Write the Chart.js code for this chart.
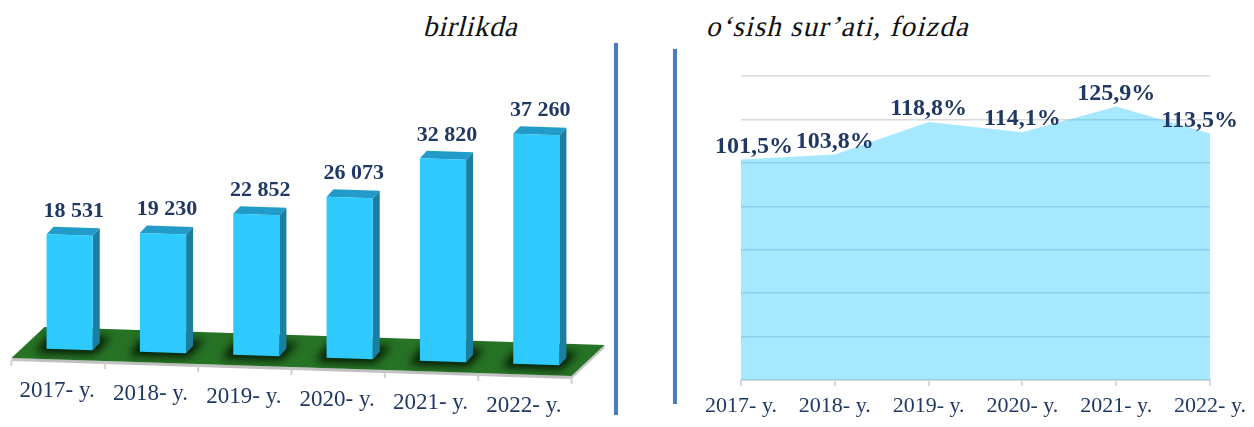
<!DOCTYPE html>
<html>
<head>
<meta charset="utf-8">
<script src="https://cdn.jsdelivr.net/npm/chart.js@4.4.0/dist/chart.umd.min.js"></script>
<style>
  body { margin: 0; background: #fff; }
  #wrap { position: relative; width: 1254px; height: 427px; overflow: hidden; background: #fff; }
  canvas { position: absolute; top: 0; }
  #left { left: 0; }
  #right { left: 680px; }
  .title {
    position: absolute; font-family: "Liberation Serif", "Times New Roman", serif; font-style: normal;
    font-size: 29px; line-height: 1; color: #111; white-space: nowrap;
    transform: skewX(-14deg); transform-origin: 0 80%;
  }
  .divider { position: absolute; width: 4px; background: #4a7cbe; box-shadow: 0 0 1px #9db8dc; }
</style>
</head>
<body>
<div id="wrap">
  <div class="title" style="left:423px; top:12px; letter-spacing:0.5px">birlikda</div>
  <div class="title" style="left:706px; top:12px; letter-spacing:1.1px">o‘sish sur’ati, foizda</div>
  <div class="divider" style="left:614px; top:43px; height:372px"></div>
  <div class="divider" style="left:673px; top:49px; height:355px"></div>
  <canvas id="left" width="612" height="427"></canvas>
  <canvas id="right" width="574" height="427"></canvas>
</div>
<script>
const years = ["2017- y.", "2018- y.", "2019- y.", "2020- y.", "2021- y.", "2022- y."];
const units = [18531, 19230, 22852, 26073, 32820, 37260];
const growth = [101.5, 103.8, 118.8, 114.1, 125.9, 113.5];
const growthTicks = { min: 0, max: 140, step: 20 };

const navy = "#1f3864";
const serif = '"Liberation Serif", "Times New Roman", serif';

const fmtUnits = v => String(v).replace(/\B(?=(\d{3})+(?!\d))/g, " ");
const fmtPct = v => v.toFixed(1).replace(".", ",") + "%";

// 3D look for the left chart
const SLOPE = 0.0323;
const DEPTH = { x: 7, y: -7.5 };
const FRONT = { x: -11.5, y: 10 };
const BACK = { x: 21.5, y: -21 };

const bars3d = {
    id: "bars3d",
    beforeDatasetsDraw(chart) {
        const { ctx, chartArea: a } = chart;
        const meta = chart.getDatasetMeta(0);
        const tilt = (x, y) => [x, y + (x - a.left) * SLOPE];
        const move = (p, d, k = 1) => [p[0] + d.x * k, p[1] + d.y * k];
        const poly = (pts, fill) => {
            ctx.beginPath();
            ctx.moveTo(pts[0][0], pts[0][1]);
            pts.slice(1).forEach(p => ctx.lineTo(p[0], p[1]));
            ctx.closePath();
            ctx.fillStyle = fill;
            ctx.fill();
        };

        ctx.save();
        // floor
        const bl = tilt(a.left, a.bottom);
        const br = tilt(a.right, a.bottom);
        const fl = move(bl, FRONT), fr = move(br, FRONT);
        const kl = move(bl, BACK), kr = move(br, BACK);
        poly([fl, fr, kr, [kr[0], kr[1] + 3], [fr[0], fr[1] + 3], [fl[0], fl[1] + 3]], "#c4c4c4");
        poly([fl, fr, kr, kl], "#277326");

        // category ticks along the front edge
        const xs = meta.data.map(b => b.x);
        const bounds = [a.left];
        for (let i = 0; i < xs.length - 1; i++) bounds.push((xs[i] + xs[i + 1]) / 2);
        bounds.push(a.right);
        ctx.strokeStyle = "#d0d0d0";
        ctx.lineWidth = 2;
        bounds.forEach(bx => {
            const p = move(tilt(bx, a.bottom), FRONT);
            ctx.beginPath();
            ctx.moveTo(p[0], p[1] + 2);
            ctx.lineTo(p[0], p[1] + 8);
            ctx.stroke();
        });

        // shadows on the floor
        ctx.save();
        ctx.filter = "blur(4px)";
        meta.data.forEach(bar => {
            const xl = bar.x - bar.width / 2, xr = bar.x + bar.width / 2;
            const pts = [
                tilt(xl - 11, bar.base + 4),
                tilt(xr + 2, bar.base + 4),
                move(tilt(xr + 6, bar.base), DEPTH, 1.8),
                move(tilt(xl - 11, bar.base), DEPTH, 1.8)
            ];
            poly(pts, "rgba(0,15,0,0.9)");
        });
        ctx.restore();

        // bars
        meta.data.forEach(bar => {
            const xl = bar.x - bar.width / 2, xr = bar.x + bar.width / 2;
            const tl = tilt(xl, bar.y), tr = tilt(xr, bar.y);
            const bR = tilt(xr, bar.base), bL = tilt(xl, bar.base);
            poly([tr, move(tr, DEPTH), move(bR, DEPTH), bR], "#1b7fa1");
            poly([tl, tr, move(tr, DEPTH), move(tl, DEPTH)], "#229bc8");
            poly([tl, tr, bR, bL], "#2ec9fd");
        });

        // value labels
        ctx.font = "bold 22px " + serif;
        ctx.fillStyle = navy;
        ctx.textAlign = "center";
        ctx.textBaseline = "middle";
        meta.data.forEach((bar, i) => {
            ctx.fillText(fmtUnits(units[i]), bar.x + 4, tilt(bar.x, bar.y)[1] - 24);
        });

        // category labels
        ctx.font = "23px " + serif;
        meta.data.forEach((bar, i) => {
            const p = move(tilt(bar.x, a.bottom), FRONT);
            ctx.fillText(years[i], p[0] - 1, p[1] + 31);
        });
        ctx.restore();
        return false;
    }
};

const growthLabels = {
    id: "growthLabels",
    afterDatasetsDraw(chart) {
        const { ctx, chartArea: a } = chart;
        const meta = chart.getDatasetMeta(0);
        ctx.save();
        ctx.font = "bold 24px " + serif;
        ctx.fillStyle = navy;
        ctx.textAlign = "center";
        ctx.textBaseline = "middle";
        meta.data.forEach((pt, i) => {
            const text = fmtPct(growth[i]);
            const w = ctx.measureText(text).width;
            const x = Math.min(Math.max(pt.x, a.left - 26 + w / 2), a.right + 28 - w / 2);
            ctx.fillText(text, x, pt.y - 13);
        });
        ctx.restore();
    }
};

new Chart(document.getElementById("left"), {
    type: "bar",
    data: {
        labels: years,
        datasets: [{ data: units, backgroundColor: "#2ec9fd" }]
    },
    options: {
        responsive: false,
        animation: false,
        layout: { padding: { left: 23, right: 29, top: 101, bottom: 79 } },
        datasets: { bar: { categoryPercentage: 1, barPercentage: 0.495 } },
        plugins: { legend: { display: false }, tooltip: { enabled: false } },
        scales: {
            x: { display: false },
            y: { display: false, min: 0, max: 40000 }
        }
    },
    plugins: [bars3d]
});

new Chart(document.getElementById("right"), {
    type: "line",
    data: {
        labels: years,
        datasets: [{
            data: growth,
            fill: "origin",
            backgroundColor: "rgba(0,190,255,0.35)",
            borderWidth: 0,
            pointRadius: 0,
            tension: 0
        }]
    },
    options: {
        responsive: false,
        animation: false,
        layout: { padding: { left: 61, right: 44, top: 76, bottom: 0 } },
        plugins: { legend: { display: false }, tooltip: { enabled: false } },
        scales: {
            x: {
                grid: { drawOnChartArea: false, color: "#d9d9d9", lineWidth: 2, tickLength: 6 },
                border: { color: "#d9d9d9", width: 2 },
                ticks: { color: navy, font: { family: serif, size: 22 }, padding: 7, maxRotation: 0, autoSkip: false },
                afterFit: s => { s.height = 47; }
            },
            y: {
                min: growthTicks.min,
                max: growthTicks.max,
                ticks: { stepSize: growthTicks.step, display: false },
                grid: { color: "#d9d9d9", lineWidth: 1.5, drawTicks: false },
                border: { display: false },
                afterFit: s => { s.width = 0; }
            }
        }
    },
    plugins: [growthLabels]
});
</script>
</body>
</html>
